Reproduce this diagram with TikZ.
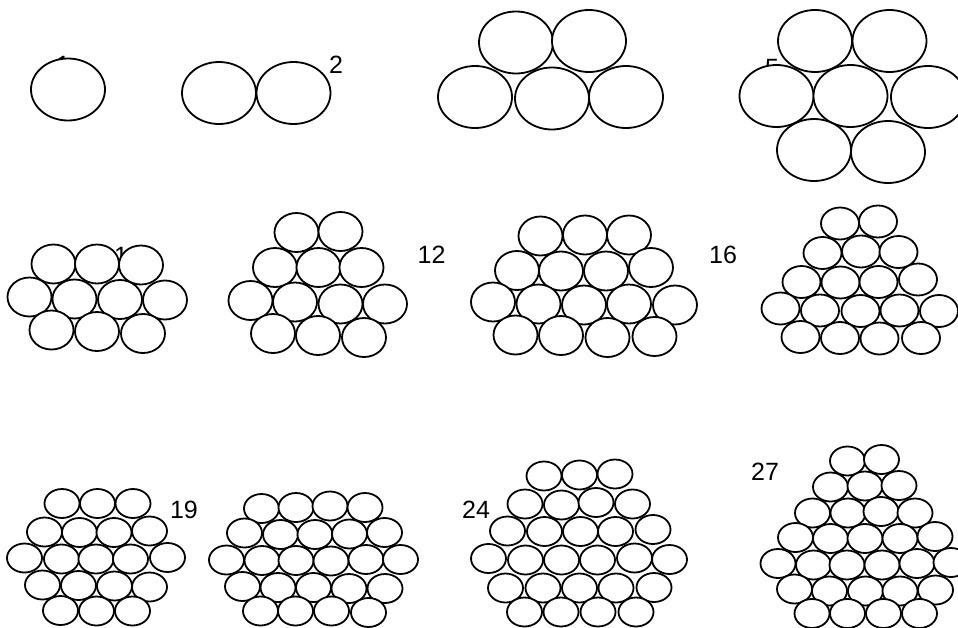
\documentclass[tikz,border=0pt]{standalone}
\usepackage{fontspec}
\setmainfont{Liberation Sans}
\begin{document}
\begin{tikzpicture}[x=1pt,y=-1pt,
  ell/.style={draw=black,fill=white,line width=1.8pt},
  lbl/.style={anchor=base,inner sep=0pt,font=\fontsize{25}{30}\selectfont}]
\useasboundingbox (0,0) rectangle (958,627);
\clip (0,0) rectangle (958,627);
% labels (drawn first, partly hidden by the ellipses)
\node[lbl] (l1) at (63,73.5) {1};
\node[lbl] (l2) at (336,73) {2};
\node[lbl] (l5) at (772,76) {5};
\node[lbl] (l10) at (128,264) {10};
\node[lbl] (l12) at (431.5,263) {12};
\node[lbl] (l16) at (723,263) {16};
\node[lbl] (l19) at (184,518) {19};
\node[lbl] (l24) at (476,518) {24};
\node[lbl] (l27) at (765,480) {27};
% large ellipses
\foreach \cx/\cy in {68/89.5, 219/93, 293.5/93,
  516/42.5, 589/41, 475/97, 552/98.5, 626/97,
  815/41, 889.5/41, 776.5/96, 850.5/96, 928/97, 814/150, 888/152}
  \draw[ell] (\cx,\cy) ellipse [x radius=37, y radius=31];
% medium ellipses
\foreach \cx/\cy in {53.5/264, 97/264, 141/265, 29.5/297, 74.5/299, 120/299.5, 165/300,
  51.5/330, 97/331.5, 143/333.5,
  296.5/232.5, 340.5/231.5, 275/267.5, 318.5/267.5, 361.5/267.5,
  250.5/300.5, 295/302, 340.5/304, 385/304, 273/333.5, 318/335.5, 364/337.5,
  540.5/236, 585/235, 629/235, 517/270.5, 561/271, 606/271, 651/267.5,
  493/302, 538.5/304, 584/305, 629/304, 675/305,
  515.5/335, 561/335.5, 607.5/337.5, 654.5/336.5}
  \draw[ell] (\cx,\cy) ellipse [x radius=22, y radius=19.5];
% smaller ellipses (row 2, right)
\foreach \cx/\cy in {840/223.5, 878/221.5, 822.5/253, 861/251.5, 898.5/252,
  801.5/282, 840.5/282.5, 878.5/282, 918/279.5,
  780.5/308.5, 820/310.5, 860.5/311, 899.5/310.5, 939/311,
  800.5/337, 840/338, 879.5/338.5, 921/338}
  \draw[ell] (\cx,\cy) ellipse [x radius=19, y radius=16];
% small ellipses (row 3)
\foreach \cx/\cy in {62/503.5, 97.5/503.5, 133/503.5,
  44.5/532, 79.5/532.5, 114/532.5, 149.5/531,
  24.5/558, 61.5/559, 96/559, 130.5/559, 167.5/557.5,
  42.5/585, 78.5/585.5, 114.5/586, 149.5/587,
  60.5/610.5, 96.5/611, 132.5/611,
  261.5/508.5, 296/507.5, 330/506, 365/507.5,
  244.5/533, 280.5/534.5, 315/534.5, 349.5/534, 384.5/532.5,
  226.5/560, 262/560.5, 296/560.5, 331/561, 366/559.5, 400.5/559.5,
  242.5/586.5, 278/587.5, 313.5/587.5, 349/588.5, 385/588.5,
  260.5/611, 295.5/611, 331.5/611, 368.5/612.5,
  544/476, 579.5/475, 615/474,
  525/504, 561.5/505, 596/502.5, 632.5/504,
  507.5/531, 544.5/531.5, 580.5/531.5, 615.5/531.5, 653/529.5,
  488.5/558.5, 525.5/560, 561.5/560, 597.5/560, 634.5/558, 669.5/559.5,
  505.5/588, 543/588, 579.5/588, 616/588, 654/587.5,
  524.5/612, 561/612, 598/612, 636/612,
  847.5/461, 881.5/459.5,
  830.5/487, 865/486, 899/485.5,
  812.5/513, 848/513, 881/511.5, 915/513,
  795.5/537.5, 830.5/538.5, 865/538.5, 900/538.5, 935/536.5,
  778/563.5, 813.5/565, 847/565, 882/565, 917/563.5, 951/562.5,
  794.5/589, 829.5/591, 865.5/591, 900/591, 935.5/590,
  812/613.5, 847.5/613.5, 883.5/613.5, 919.5/613.5}
  \draw[ell] (\cx,\cy) ellipse [x radius=17.5, y radius=14.5];
\end{tikzpicture}
\end{document}
